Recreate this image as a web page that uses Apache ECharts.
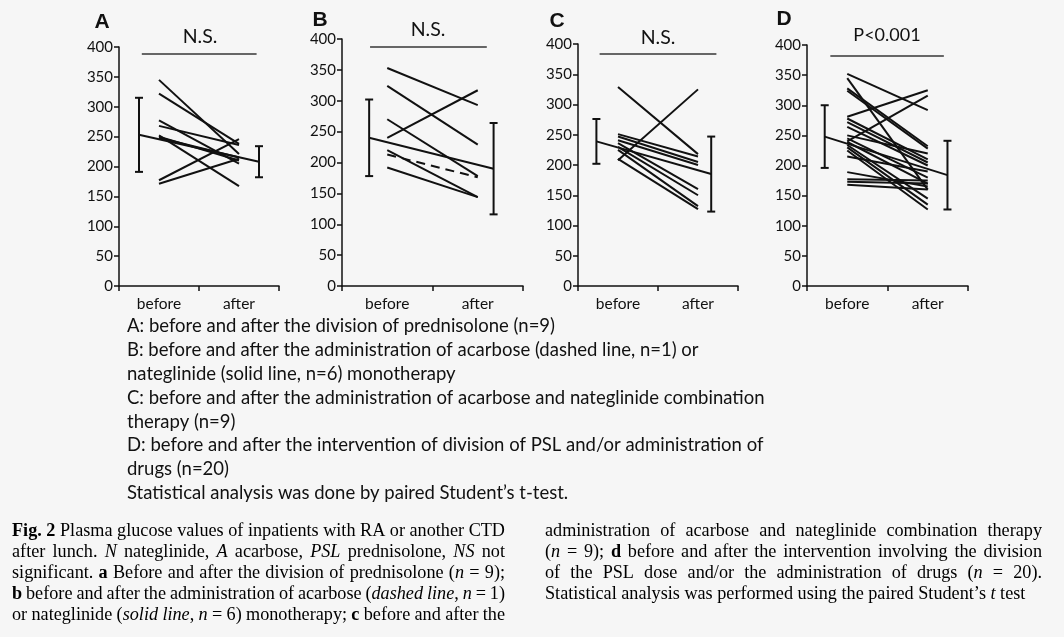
<!DOCTYPE html>
<html><head><meta charset="utf-8">
<script src="https://cdn.jsdelivr.net/npm/echarts@6/dist/echarts.min.js"></script>
<style>html,body{margin:0;padding:0;background:#f6f6f6;}#c{width:1064px;height:637px;}</style>
</head><body><div id="c"></div>
<script>
// ---------- data ----------
const categories = ['before', 'after'];
const panelLetters = ['A', 'B', 'C', 'D'];
const sigLabels = ['N.S.', 'N.S.', 'N.S.', 'P<0.001'];

const aBefore = [345, 322, 277, 268, 252, 250, 248, 177, 171];
const aAfter  = [221, 238, 205, 236, 167, 210, 215, 246, 213];
const aMean = [253, 208];
const aSD   = [62, 26];

const bSolidBefore = [353, 324, 270, 240, 220, 192];
const bSolidAfter  = [293, 229, 178, 317, 144, 144];
const bDashedBefore = [213];
const bDashedAfter  = [176];
const bMean = [240, 190];
const bSD   = [62, 74];

const cBefore = [329, 208, 251, 247, 241, 236, 230, 225, 210];
const cAfter  = [218, 325, 214, 205, 200, 160, 150, 132, 127];
const cMean = [239, 185];
const cSD   = [37, 62];

const dBefore = [352, 345, 328, 324, 281, 240, 278, 272, 264, 250, 245, 239, 234, 230, 225, 215, 189, 177, 173, 168];
const dAfter  = [292, 160, 232, 228, 325, 316, 210, 205, 200, 220, 180, 170, 145, 135, 127, 190, 165, 175, 170, 160];
const dMean = [248, 184];
const dSD   = [52, 57];

const sigBarValue = [388, 387, 384, 382];

const legendLines = [
  'A: before and after the division of prednisolone (n=9)',
  'B: before and after the administration of acarbose (dashed line, n=1) or',
  'nateglinide (solid line, n=6) monotherapy',
  'C: before and after the administration of acarbose and nateglinide combination',
  'therapy (n=9)',
  'D: before and after the intervention of division of PSL and/or administration of',
  'drugs (n=20)',
  'Statistical analysis was done by paired Student\u2019s t-test.'
];

const captionLeft = [
  [['Fig. 2', 'b'], [' Plasma glucose values of inpatients with RA or another CTD', '']],
  [['after lunch. ', ''], ['N', 'i'], [' nateglinide, ', ''], ['A', 'i'], [' acarbose, ', ''], ['PSL', 'i'], [' prednisolone, ', ''], ['NS', 'i'], [' not', '']],
  [['significant. ', ''], ['a', 'b'], [' Before and after the division of prednisolone (', ''], ['n', 'i'], [' = 9);', '']],
  [['b', 'b'], [' before and after the administration of acarbose (', ''], ['dashed line', 'i'], [', ', ''], ['n', 'i'], [' = 1)', '']],
  [['or nateglinide (', ''], ['solid line', 'i'], [', ', ''], ['n', 'i'], [' = 6) monotherapy; ', ''], ['c', 'b'], [' before and after the', '']]
];
const captionRight = [
  [['administration of acarbose and nateglinide combination therapy', '']],
  [['(', ''], ['n', 'i'], [' = 9); ', ''], ['d', 'b'], [' before and after the intervention involving the division', '']],
  [['of the PSL dose and/or the administration of drugs (', ''], ['n', 'i'], [' = 20).', '']],
  [['Statistical analysis was performed using the paired Student\u2019s ', ''], ['t', 'i'], [' test', '']]
];

// ---------- layout ----------
const panels = [
  { before: [aBefore], after: [aAfter], dashedB: [], dashedA: [], mean: aMean, sd: aSD,
    grid: { left: 119, top: 47, width: 160, height: 239 }, meanX: [0.5, 3.5], sigX: [0.57, 3.44],
    letter: [102, 22], sigPos: [200, 37] },
  { before: [bSolidBefore], after: [bSolidAfter], dashedB: bDashedBefore, dashedA: bDashedAfter, mean: bMean, sd: bSD,
    grid: { left: 342, top: 39, width: 181, height: 247 }, meanX: [0.6, 3.35], sigX: [0.62, 3.2],
    letter: [320, 20], sigPos: [428, 30] },
  { before: [cBefore], after: [cAfter], dashedB: [], dashedA: [], mean: cMean, sd: cSD,
    grid: { left: 578, top: 44, width: 160, height: 242 }, meanX: [0.46, 3.33], sigX: [0.54, 3.46],
    letter: [557, 21], sigPos: [658, 38] },
  { before: [dBefore], after: [dAfter], dashedB: [], dashedA: [], mean: dMean, sd: dSD,
    grid: { left: 807, top: 45, width: 161, height: 241 }, meanX: [0.44, 3.49], sigX: [0.58, 3.4],
    letter: [784, 19], sigPos: [887, 35] }
];

const INK = '#111';
const sans = 'Lato';

const grid = [], xAxis = [], yAxis = [], series = [], graphic = [];

function errRender(params, api) {
  const x = api.value(0), m = api.value(1), s = api.value(2);
  const t = api.coord([x, m + s]), b = api.coord([x, m - s]);
  const cap = 4;
  const st = { stroke: INK, lineWidth: 2 };
  return { type: 'group', children: [
    { type: 'line', shape: { x1: t[0], y1: t[1], x2: b[0], y2: b[1] }, style: st },
    { type: 'line', shape: { x1: t[0] - cap, y1: t[1], x2: t[0] + cap, y2: t[1] }, style: st },
    { type: 'line', shape: { x1: b[0] - cap, y1: b[1], x2: b[0] + cap, y2: b[1] }, style: st }
  ]};
}

panels.forEach((p, i) => {
  grid.push(p.grid);
  xAxis.push({
    gridIndex: i, type: 'category', data: categories, boundaryGap: true,
    axisLine: { lineStyle: { color: INK, width: 1.5 } },
    axisTick: { show: true, length: 5, lineStyle: { color: INK, width: 1.5 } },
    axisLabel: { color: INK, fontFamily: sans, fontSize: 15.5, margin: 10 }
  });
  xAxis.push({ gridIndex: i, type: 'value', min: 0, max: 4, show: false });
  yAxis.push({
    gridIndex: i, type: 'value', min: 0, max: 400, interval: 50,
    axisLine: { show: true, lineStyle: { color: INK, width: 1.5 } },
    axisTick: { show: true, length: 5, lineStyle: { color: INK, width: 1.5 } },
    splitLine: { show: false },
    axisLabel: { color: INK, fontFamily: sans, fontSize: 15, margin: 6 }
  });
  const xi = i * 2 + 1;
  const solid = [];
  p.before.forEach((arr, k) => arr.forEach((b, j) => solid.push({ coords: [[1, b], [3, p.after[k][j]]] })));
  series.push({ type: 'lines', coordinateSystem: 'cartesian2d', xAxisIndex: xi, yAxisIndex: i,
    data: solid, lineStyle: { color: INK, width: 2, opacity: 1 }, silent: true, z: 3 });
  if (p.dashedB.length) {
    series.push({ type: 'lines', coordinateSystem: 'cartesian2d', xAxisIndex: xi, yAxisIndex: i,
      data: p.dashedB.map((b, j) => ({ coords: [[1, b], [3, p.dashedA[j]]] })),
      lineStyle: { color: INK, width: 2, opacity: 1, type: [9, 6] }, silent: true, z: 3 });
  }
  series.push({ type: 'lines', coordinateSystem: 'cartesian2d', xAxisIndex: xi, yAxisIndex: i,
    data: [{ coords: [[p.meanX[0], p.mean[0]], [p.meanX[1], p.mean[1]]] }],
    lineStyle: { color: INK, width: 2, opacity: 1 }, silent: true, z: 3 });
  series.push({ type: 'custom', xAxisIndex: xi, yAxisIndex: i, renderItem: errRender,
    encode: { x: 0, y: 1 }, silent: true, z: 4,
    data: [[p.meanX[0], p.mean[0], p.sd[0]], [p.meanX[1], p.mean[1], p.sd[1]]] });
  series.push({ type: 'lines', coordinateSystem: 'cartesian2d', xAxisIndex: xi, yAxisIndex: i,
    data: [{ coords: [[p.sigX[0], sigBarValue[i]], [p.sigX[1], sigBarValue[i]]] }],
    lineStyle: { color: '#666', width: 2, opacity: 1 }, silent: true });
  graphic.push({ type: 'text', x: p.letter[0], y: p.letter[1], silent: true,
    style: { text: panelLetters[i], font: 'bold 21px "Liberation Sans"', fill: INK, textAlign: 'center', textVerticalAlign: 'middle' } });
  graphic.push({ type: 'text', x: p.sigPos[0], y: p.sigPos[1], silent: true,
    style: { text: sigLabels[i], font: (i === 3 ? '18px ' : '19.5px ') + sans, fill: INK, textAlign: 'center', textVerticalAlign: 'middle' } });
});

// legend text block
legendLines.forEach((t, k) => {
  graphic.push({ type: 'text', x: 127, y: 326 + k * 23.9, silent: true,
    style: { text: t, font: '18.5px ' + sans, fill: INK, textAlign: 'left', textVerticalAlign: 'middle' } });
});

// caption, justified
const ctx = document.createElement('canvas').getContext('2d');
const SERIF = '"Liberation Serif"';
function fontFor(s) {
  const size = '18.2px ';
  if (s === 'b') return 'bold ' + size + SERIF;
  if (s === 'i') return 'italic ' + size + SERIF;
  return size + SERIF;
}
function measure(t, s) { ctx.font = fontFor(s); return ctx.measureText(t).width; }
function layoutLine(segs, x0, x1, y, justify) {
  const words = [];
  let cur = [];
  segs.forEach(([text, s]) => {
    const parts = text.split(' ');
    parts.forEach((part, k) => {
      if (k > 0) { if (cur.length) words.push(cur); cur = []; }
      if (part) cur.push([part, s]);
    });
  });
  if (cur.length) words.push(cur);
  const widths = words.map(w => w.reduce((a, [t, s]) => a + measure(t, s), 0));
  const total = widths.reduce((a, b) => a + b, 0);
  const space = measure(' ', '');
  let gap = justify && words.length > 1 ? (x1 - x0 - total) / (words.length - 1) : space;
  let sx = 1;
  if (gap < space * 0.7) { // too long: compress horizontally
    gap = space * 0.7;
    sx = (x1 - x0) / (total + gap * (words.length - 1));
  }
  let x = 0;
  words.forEach((w) => {
    w.forEach(([t, s]) => {
      graphic.push({ type: 'text', x: x0 + x * sx, y: y, scaleX: sx, silent: true,
        style: { text: t, font: fontFor(s), fill: '#000', textAlign: 'left', textVerticalAlign: 'middle' } });
      x += measure(t, s);
    });
    x += gap;
  });
}
captionLeft.forEach((segs, k) => layoutLine(segs, 12, 505, 531 + k * 21, true));
captionRight.forEach((segs, k) => layoutLine(segs, 545, 1042, 531 + k * 21, k < captionRight.length - 1));

const chart = echarts.init(document.getElementById('c'), null, { renderer: 'canvas' });
chart.setOption({
  backgroundColor: '#f6f6f6',
  animation: false,
  grid, xAxis, yAxis, series, graphic
});
</script></body></html>
